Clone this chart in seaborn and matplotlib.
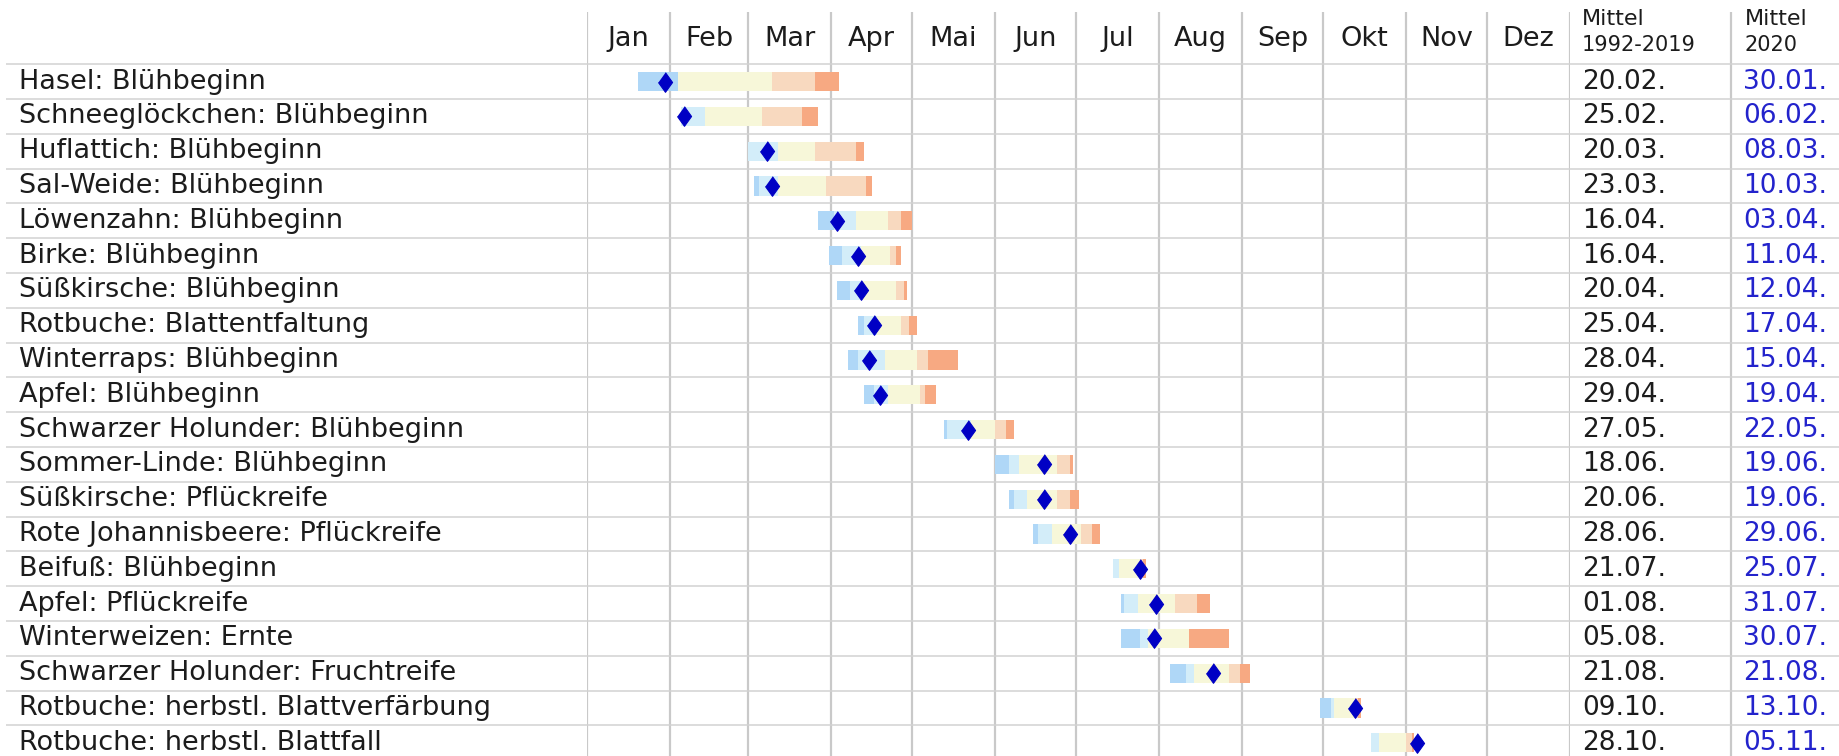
import numpy as np
import pandas as pd
import matplotlib
matplotlib.use('Agg')
import matplotlib.pyplot as plt
import matplotlib.transforms as mtransforms
import seaborn as sns

# phenological phases, one row each
phases = [
    'Hasel: Blühbeginn', 'Schneeglöckchen: Blühbeginn', 'Huflattich: Blühbeginn',
    'Sal-Weide: Blühbeginn', 'Löwenzahn: Blühbeginn', 'Birke: Blühbeginn',
    'Süßkirsche: Blühbeginn', 'Rotbuche: Blattentfaltung', 'Winterraps: Blühbeginn',
    'Apfel: Blühbeginn', 'Schwarzer Holunder: Blühbeginn', 'Sommer-Linde: Blühbeginn',
    'Süßkirsche: Pflückreife', 'Rote Johannisbeere: Pflückreife', 'Beifuß: Blühbeginn',
    'Apfel: Pflückreife', 'Winterweizen: Ernte', 'Schwarzer Holunder: Fruchtreife',
    'Rotbuche: herbstl. Blattverfärbung', 'Rotbuche: herbstl. Blattfall',
]
mean_1992_2019 = ['20.02.', '25.02.', '20.03.', '23.03.', '16.04.', '16.04.', '20.04.',
                  '25.04.', '28.04.', '29.04.', '27.05.', '18.06.', '20.06.', '28.06.',
                  '21.07.', '01.08.', '05.08.', '21.08.', '09.10.', '28.10.']
mean_2020 = ['30.01.', '06.02.', '08.03.', '10.03.', '03.04.', '11.04.', '12.04.',
             '17.04.', '15.04.', '19.04.', '22.05.', '19.06.', '19.06.', '29.06.',
             '25.07.', '31.07.', '30.07.', '21.08.', '13.10.', '05.11.']

# class limits of the coloured bars, days since 1 Jan
lim_start = [19, 35, 60, 62, 86, 90, 93, 101, 97, 103, 133, 152, 157, 166, 196, 199, 199, 217, 273, 292]
lim_blue = [34, 35, 60, 64, 92, 95, 98, 103, 101, 107, 134, 157, 159, 168, 196, 200, 206, 223, 277, 292]
lim_lightblue = [34, 44, 71, 71, 100, 102, 102, 108, 111, 112, 143, 161, 164, 173, 198, 205, 209, 226, 278, 295]
lim_yellow = [69, 65, 85, 89, 112, 113, 115, 117, 123, 124, 152, 175, 175, 184, 206, 219, 224, 239, 286, 305]
lim_lightorange = [85, 80, 100, 104, 117, 115, 118, 120, 127, 126, 156, 180, 180, 188, 207, 227, 224, 243, 287, 307]
lim_end = [94, 86, 103, 106, 121, 117, 119, 123, 138, 130, 159, 181, 183, 191, 208, 232, 239, 247, 288, 308]

months = ['Jan', 'Feb', 'Mar', 'Apr', 'Mai', 'Jun', 'Jul', 'Aug', 'Sep', 'Okt', 'Nov', 'Dez']

seg_colors = ['#afd7f7', '#d3edf9', '#f7f7d9', '#f8d9bf', '#f7a982']
grid_col = '#c9c9c9'
txt_col = '#1c1c1c'
blue_txt = '#2323cc'

sns.set_style('white')
plt.rcParams['font.family'] = ['DejaVu Sans']

W, H = 1839, 756
n = len(phases)
row_h = 34.8
top_px = 12
head = 1.5

fig = plt.figure(figsize=(W / 100, H / 100), dpi=100)
ax_h = (n + head) * row_h
ax = fig.add_axes([587 / W, 1 - (top_px + ax_h) / H, 983 / W, ax_h / H])
fig_x = mtransforms.blended_transform_factory(fig.transFigure, ax.transData)

start = pd.Timestamp('2020-01-01')
edges = (pd.date_range('2020-01-01', periods=13, freq='MS') - start).days.values

# grid
ax.vlines(edges, -head, n, color=grid_col, lw=1.6, zorder=1)
ax.vlines([1731 / W], -head, n, color=grid_col, lw=1.6, zorder=1,
          transform=fig_x, clip_on=False)
ax.hlines(np.arange(0, n + 1), 6 / W, 1, color='#d2d2d2', lw=1.1, zorder=1,
          transform=fig_x, clip_on=False)

# bars
yc = np.arange(n) + 0.5
bounds = np.array([lim_start, lim_blue, lim_lightblue, lim_yellow, lim_lightorange, lim_end])
for k, c in enumerate(seg_colors):
    ax.barh(yc, bounds[k + 1] - bounds[k], left=bounds[k], height=0.55,
            color=c, lw=0, zorder=2)

# 2020 dates as diamonds
day_2020 = (pd.to_datetime([d + '2020' for d in mean_2020], format='%d.%m.%Y') - start).days.values
diamond = [(0, 1), (0.72, 0), (0, -1), (-0.72, 0)]
sns.scatterplot(x=day_2020, y=yc, marker=diamond, s=200, color='#0000c4',
                edgecolor='#0000c4', linewidth=0.8, ax=ax, zorder=4)

# header
for m, a, b in zip(months, edges[:-1], edges[1:]):
    ax.text((a + b) / 2, -0.73, m, ha='center', va='center', fontsize=19.5, color=txt_col)
for xh, sub in [(1582, '1992-2019'), (1745, '2020')]:
    ax.text(xh / W, -1.30, 'Mittel', transform=fig_x, va='center', fontsize=16, color=txt_col)
    ax.text(xh / W, -0.55, sub, transform=fig_x, va='center', fontsize=15, color=txt_col)

# table columns
for y, lab, m1, m2 in zip(yc, phases, mean_1992_2019, mean_2020):
    ax.text(19 / W, y, lab, transform=fig_x, ha='left', va='center', fontsize=19.5, color=txt_col)
    ax.text(1582 / W, y, m1, transform=fig_x, ha='left', va='center', fontsize=19, color=txt_col)
    ax.text(1743 / W, y, m2, transform=fig_x, ha='left', va='center', fontsize=19, color=blue_txt)

ax.set_xlim(0, edges[-1])
ax.set_ylim(n, -head)
ax.set_axis_off()

fig.savefig('out.png', dpi=100, facecolor='white')
